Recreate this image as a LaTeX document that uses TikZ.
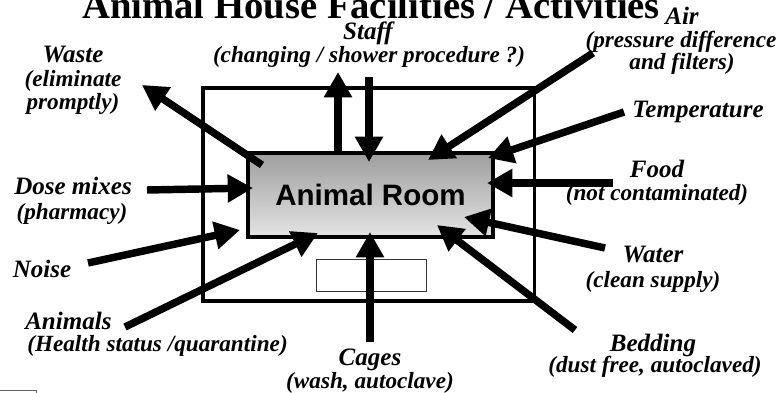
\documentclass[tikz,border=0pt]{standalone}
\usepackage{fontspec}
\setmainfont{Liberation Serif}
\newfontfamily\roomfont{Liberation Sans}
\usetikzlibrary{arrows.meta,positioning}
\definecolor{roomtop}{RGB}{158,158,158}
\definecolor{roombot}{RGB}{228,228,228}
\tikzset{
  lbl/.style={anchor=base, inner sep=0pt, font=\fontsize{17.8}{20}\selectfont\bfseries\itshape},
  sublbl/.style={anchor=base, inner sep=0pt, font=\fontsize{16.5}{19}\selectfont\bfseries\itshape},
  titlelbl/.style={anchor=base, inner sep=0pt, font=\fontsize{27.5}{30}\selectfont\bfseries},
  housebox/.style={draw, line width=2.2pt, minimum width=8.275cm, minimum height=5.325cm, inner sep=0pt},
  roombox/.style={draw, line width=2.2pt, top color=roomtop, bottom color=roombot,
                  minimum width=6.125cm, minimum height=2.1cm, inner sep=0pt,
                  font=\roomfont\fontsize{21}{24}\selectfont\bfseries},
  hatchbox/.style={draw=black!80, line width=0.7pt, minimum width=2.725cm, minimum height=0.8cm, inner sep=0pt},
  flow/.style={-{Triangle[length=18pt,width=19pt]}, line width=5.3pt},
}
\begin{document}
\begin{tikzpicture}[x=0.025cm, y=-0.025cm]
  \path[use as bounding box, clip] (0,0) rectangle (776,393);
  % title
  \node[titlelbl] (title) at (371,19) {Animal House Facilities / Activities};
  % boxes
  \node[housebox] (house) at (368.5,194.5) {};
  \node[roombox] (room) at (370.5,195) {Animal Room};
  \node[hatchbox] (hatch) at (371.5,275) {};
  \draw[black!60, line width=0.7pt] (-10,390) rectangle (36,400);
  % labels
  \node[lbl] (staff) at (368,40) {Staff};
  \node[sublbl] (staffsub) at (369,63) {(changing / shower procedure ?)};
  \node[lbl] (air) at (682,25) {Air};
  \node[sublbl] (airsub) at (681,48) {(pressure difference};
  \node[sublbl] (airsubb) at (682,70) {and filters)};
  \node[lbl] (temp) at (698,118) {Temperature};
  \node[lbl] (food) at (657,178) {Food};
  \node[sublbl] (foodsub) at (657,200) {(not contaminated)};
  \node[lbl] (water) at (653,262) {Water};
  \node[sublbl] (watersub) at (653,287) {(clean supply)};
  \node[lbl] (bedding) at (653,351) {Bedding};
  \node[sublbl] (beddingsub) at (655,372) {(dust free, autoclaved)};
  \node[lbl] (cages) at (370,365) {Cages};
  \node[sublbl] (cagessub) at (370,388) {(wash, autoclave)};
  \node[lbl, anchor=base west] (animals) at (25,329) {Animals};
  \node[sublbl, anchor=base west] (animalssub) at (27,351) {(Health status /quarantine)};
  \node[lbl] (noise) at (42,277) {Noise};
  \node[lbl] (dose) at (73,195) {Dose mixes};
  \node[sublbl] (dosesub) at (72,220) {(pharmacy)};
  \node[lbl] (waste) at (73,63) {Waste};
  \node[sublbl] (wastesub) at (73,87) {(eliminate};
  \node[sublbl] (wastesubb) at (73,110) {promptly)};
  % arrow ends
  \coordinate (staffout) at (338,153); \coordinate (staffoutend) at (338,72);
  \coordinate (staffin) at (369,77);   \coordinate (staffinend) at (369,162);
  \coordinate (airin) at (593,53);     \coordinate (airend) at (428,160);
  \coordinate (tempin) at (624,112);   \coordinate (tempend) at (488,158);
  \coordinate (foodin) at (613,183);   \coordinate (foodend) at (487,183);
  \coordinate (waterin) at (605,248);  \coordinate (waterend) at (464,217);
  \coordinate (beddingin) at (575,330); \coordinate (beddingend) at (437,225);
  \coordinate (cagesin) at (370,342);  \coordinate (cagesend) at (370,232);
  \coordinate (animalsin) at (125,327); \coordinate (animalsend) at (318,233);
  \coordinate (noisein) at (88,263);   \coordinate (noiseend) at (240,230);
  \coordinate (dosein) at (147,190);   \coordinate (doseend) at (253,188);
  \coordinate (wasteout) at (262,165); \coordinate (wasteend) at (142,85);
  % arrows
  \draw[flow] (staffout)--(staffoutend); \draw[flow] (staffin)--(staffinend);
  \draw[flow] (airin)--(airend); \draw[flow] (tempin)--(tempend);
  \draw[flow] (foodin)--(foodend); \draw[flow] (waterin)--(waterend);
  \draw[flow] (beddingin)--(beddingend); \draw[flow] (cagesin)--(cagesend);
  \draw[flow] (animalsin)--(animalsend); \draw[flow] (noisein)--(noiseend);
  \draw[flow] (dosein)--(doseend); \draw[flow] (wasteout)--(wasteend);
\end{tikzpicture}
\end{document}
